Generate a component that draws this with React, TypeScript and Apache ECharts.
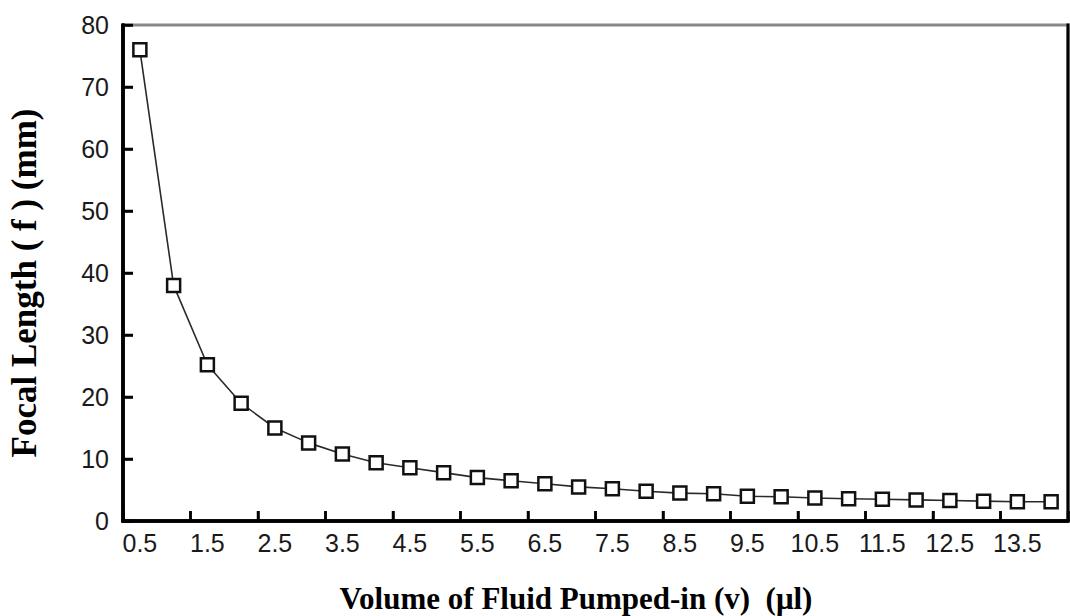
import React, { useEffect, useRef } from "react";
import * as echarts from "echarts";

const volumes: string[] = [
  "0.5", "1.0", "1.5", "2.0", "2.5", "3.0", "3.5", "4.0", "4.5", "5.0",
  "5.5", "6.0", "6.5", "7.0", "7.5", "8.0", "8.5", "9.0", "9.5", "10.0",
  "10.5", "11.0", "11.5", "12.0", "12.5", "13.0", "13.5", "14.0",
];
const focalLength: number[] = [
  76, 38, 25.2, 19, 15, 12.6, 10.8, 9.4, 8.6, 7.8,
  7.0, 6.5, 6.0, 5.5, 5.2, 4.8, 4.5, 4.4, 4.0, 3.9,
  3.7, 3.6, 3.5, 3.4, 3.3, 3.2, 3.1, 3.1,
];
const yTicks = { min: 0, max: 80, interval: 10 };
const xTitle = "Volume of Fluid Pumped-in (v)  (μl)";
const yTitle = "Focal Length ( f ) (mm)";

export default function App() {
  const ref = useRef<HTMLDivElement>(null);
  useEffect(() => {
    if (!ref.current) return;
    const chart = echarts.init(ref.current, null, { renderer: "svg" });
    chart.setOption({
      animation: false,
      grid: {
        left: 123,
        top: 25,
        width: 945,
        height: 496,
        show: true,
        borderColor: "#888888",
        borderWidth: 3,
      },
      xAxis: {
        type: "category",
        data: volumes,
        axisLine: { show: true, lineStyle: { color: "black", width: 3.5 } },
        axisTick: { show: true, inside: true, length: 10, interval: 1, lineStyle: { color: "black", width: 2.5 } },
        axisLabel: {
          interval: 1,
          margin: 9,
          fontFamily: "Liberation Sans, Arial, sans-serif",
          fontSize: 25,
          color: "#1a1a1a",
        },
        splitLine: { show: false },
      },
      yAxis: {
        type: "value",
        min: yTicks.min,
        max: yTicks.max,
        interval: yTicks.interval,
        axisLine: { show: true, lineStyle: { color: "black", width: 3.5 } },
        axisTick: { show: true, inside: true, length: 10, lineStyle: { color: "black", width: 2.5 } },
        axisLabel: {
          margin: 14,
          fontFamily: "Liberation Sans, Arial, sans-serif",
          fontSize: 25,
          color: "#1a1a1a",
        },
        splitLine: { show: false },
      },
      series: [
        {
          type: "line",
          data: focalLength,
          symbol: "rect",
          symbolSize: 13,
          showAllSymbol: true,
          z: 5,
          lineStyle: { color: "#2a2a2a", width: 1.6 },
          itemStyle: { color: "#ffffff", borderColor: "#111111", borderWidth: 2.5 },
        },
      ],
    });

    // Frame and ticks positioned through the chart's own scales.
    const c0 = chart.convertToPixel({ xAxisIndex: 0 }, 0) as number;
    const c1 = chart.convertToPixel({ xAxisIndex: 0 }, 1) as number;
    const band = c1 - c0;
    const xLeft = c0 - band / 2;
    const xRight = xLeft + band * volumes.length;
    const yBottom = chart.convertToPixel({ yAxisIndex: 0 }, yTicks.min) as number;
    const yTop = chart.convertToPixel({ yAxisIndex: 0 }, yTicks.max) as number;

    const elements: any[] = [];
    elements.push({
      type: "line",
      z: 10,
      shape: { x1: xRight, y1: yTop - 1.5, x2: xRight, y2: yBottom },
      style: { stroke: "#000000", lineWidth: 3 },
    });
    elements.push({
      type: "line",
      z: 10,
      shape: { x1: xLeft, y1: yTop - 1.5, x2: xLeft, y2: yBottom + 1.5 },
      style: { stroke: "#000000", lineWidth: 3.5 },
    });
    elements.push({
      type: "line",
      z: 10,
      shape: { x1: xLeft - 1.5, y1: yBottom, x2: xRight + 1.5, y2: yBottom },
      style: { stroke: "#000000", lineWidth: 3.5 },
    });
    for (let i = 0; i <= volumes.length; i += 2) {
      const bx = xLeft + band * i;
      elements.push({
        type: "line",
        z: 10,
        shape: { x1: bx, y1: yBottom, x2: bx, y2: yBottom - 10 },
        style: { stroke: "#000000", lineWidth: 2.5 },
      });
    }
    for (let v = yTicks.min; v <= yTicks.max; v += yTicks.interval) {
      const py = chart.convertToPixel({ yAxisIndex: 0 }, v) as number;
      elements.push({
        type: "line",
        z: 10,
        shape: { x1: xLeft, y1: py, x2: xLeft + 10, y2: py },
        style: { stroke: "#000000", lineWidth: 2.5 },
      });
    }
    elements.push({
      type: "text",
      x: 576,
      y: 598,
      style: {
        text: xTitle,
        fontFamily: "Liberation Serif, Times New Roman, serif",
        fontWeight: "bold",
        fontSize: 31,
        fill: "#000",
        align: "center",
        verticalAlign: "middle",
      },
    });
    elements.push({
      type: "text",
      x: 24,
      y: 283,
      rotation: Math.PI / 2,
      style: {
        text: yTitle,
        fontFamily: "Liberation Serif, Times New Roman, serif",
        fontWeight: "bold",
        fontSize: 35,
        fill: "#000",
        align: "center",
        verticalAlign: "middle",
      },
    });
    chart.setOption({ graphic: elements });

    return () => chart.dispose();
  }, []);
  return (
    <div
      ref={ref}
      style={{ position: "fixed", left: 0, top: 0, width: 1070, height: 616, background: "#fff" }}
    />
  );
}
